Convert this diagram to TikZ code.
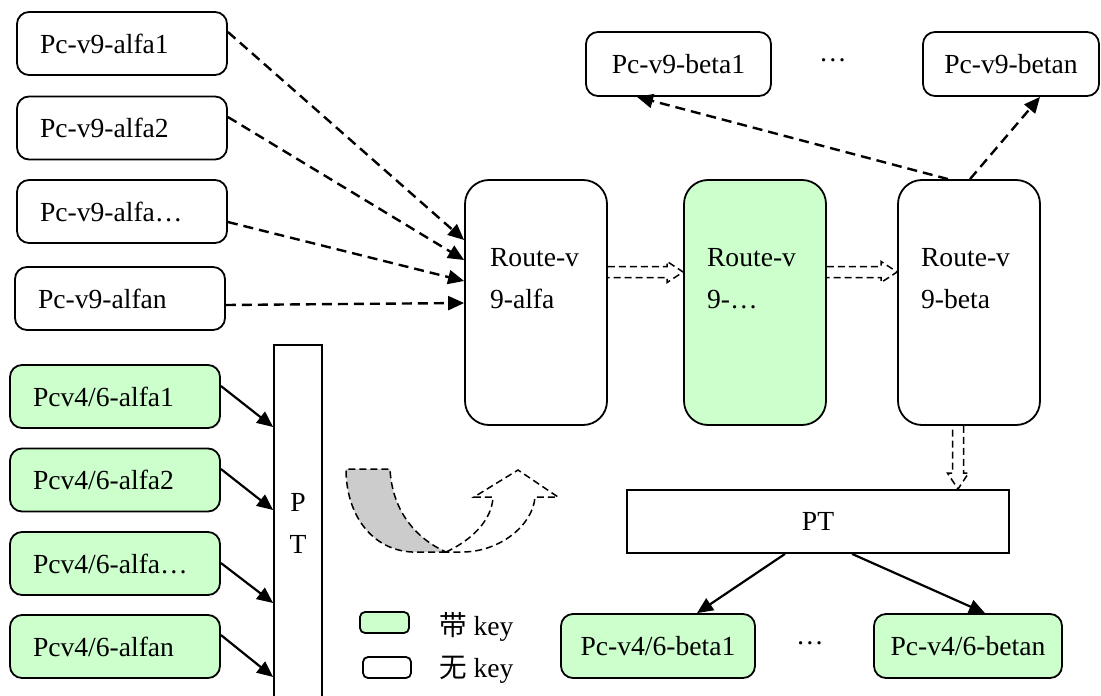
\documentclass[tikz,border=0pt]{standalone}
\usepackage{fontspec}
\setmainfont{Liberation Serif}
\newfontfamily\cjk{Noto Sans CJK SC}
\usepackage{xcolor}
\usepackage{tikz}
\usetikzlibrary{arrows.meta,positioning,calc}

\definecolor{keygreen}{HTML}{CCFFCC}

% hollow dashed block arrow from #1 to #2
\newcommand{\hollowarr}[2]{%
  \path #1 coordinate (ha) #2 coordinate (hb);
  \path ($(hb)!8pt!(ha)$) coordinate (hm);
  \draw[holdash] ($(ha)!2.75pt!90:(hb)$) -- ($(hm)!2.75pt!90:(hb)$)
    -- ($(hm)!5.25pt!90:(hb)$) -- (hb) -- ($(hm)!5.25pt!-90:(hb)$)
    -- ($(hm)!2.75pt!-90:(hb)$) -- ($(ha)!2.75pt!-90:(hb)$);
}

\begin{document}
\begin{tikzpicture}[x=0.5pt, y=-0.5pt,
  every node/.style={font=\fontsize{13.8}{21}\selectfont},
  pcbox/.style={draw, line width=0.9pt, rounded corners=6pt, minimum height=31.5pt, inner sep=0pt},
  leftbox/.style={pcbox, inner xsep=11.5pt, text width=82pt, align=left},
  routebox/.style={draw, line width=0.9pt, rounded corners=12pt, minimum width=71pt, minimum height=122.5pt},
  ptbox/.style={draw, line width=0.9pt, inner sep=0pt},
  dasharr/.style={-{Triangle[length=8pt,width=7pt]}, line width=1.2pt, dash pattern=on 5pt off 3pt},
  solidarr/.style={-{Triangle[length=8pt,width=7pt]}, line width=1.1pt},
  holdash/.style={line width=0.75pt, dash pattern=on 3.5pt off 2pt},
]
\clip (0,0) rectangle (1101,695);

% v9 clients, left
\node[leftbox] (w1) at (122,43.5) {Pc-v9-alfa1};
\node[leftbox] (w2) at (122,128) {Pc-v9-alfa2};
\node[leftbox] (w3) at (122,211.5) {Pc-v9-alfa…};
\node[leftbox] (w4) at (120,298.5) {Pc-v9-alfan};

% v4/6 clients, left
\node[leftbox, fill=keygreen] (g1) at (115,396.5) {Pcv4/6-alfa1};
\node[leftbox, fill=keygreen] (g2) at (115,480) {Pcv4/6-alfa2};
\node[leftbox, fill=keygreen] (g3) at (115,563.5) {Pcv4/6-alfa…};
\node[leftbox, fill=keygreen] (g4) at (115,646.5) {Pcv4/6-alfan};

% PT column
\node[ptbox, minimum width=24pt, minimum height=178pt, align=center] (ptv) at (298,523) {P\\T};

% routes
\node[routebox] (r1) at (536,302.5) {};
\node[routebox, fill=keygreen] (r2) at (755,302.5) {};
\node[routebox] (r3) at (969,302.5) {};
\node[anchor=west, align=left] (r1t) at (483,279) {Route-v\\9-alfa};
\node[anchor=west, align=left] (r2t) at (700,279) {Route-v\\9-…};
\node[anchor=west, align=left] (r3t) at (914,279) {Route-v\\9-beta};

% v9 clients, top right
\node[pcbox, minimum width=92.5pt, minimum height=32pt] (b1) at (678.5,64) {Pc-v9-beta1};
\node (bdots) at (833,60) {…};
\node[pcbox, minimum width=88pt, minimum height=32pt] (bn) at (1011,64) {Pc-v9-betan};

% PT and v4/6 clients, bottom right
\node[ptbox, minimum width=191pt, minimum height=31.5pt] (pth) at (818,521.5) {PT};
\node[pcbox, fill=keygreen, minimum width=97pt, minimum height=32pt] (c1) at (658,646) {Pc-v4/6-beta1};
\node (cdots) at (810,643) {…};
\node[pcbox, fill=keygreen, minimum width=94pt, minimum height=32pt] (cn) at (968,646) {Pc-v4/6-betan};

% legend
\node[pcbox, fill=keygreen, rounded corners=2.5pt, minimum width=24.5pt, minimum height=10.5pt] (lg1) at (384.5,622.5) {};
\node[pcbox, rounded corners=2.5pt, minimum width=24pt, minimum height=10.5pt] (lg2) at (387,667.5) {};
\node[anchor=west] (lt1) at (432,627) {{\cjk 带} key};
\node[anchor=west] (lt2) at (432,670) {{\cjk 无} key};

% dashed arrows into route alfa
\draw[dasharr] (w1.east |- 0,32) -- (r1.west |- 0,240);
\draw[dasharr] (w2.east |- 0,117) -- (r1.west |- 0,260);
\draw[dasharr] (w3.east |- 0,222) -- (r1.west |- 0,281);
\draw[dasharr] (w4.east |- 0,305) -- (r1.west |- 0,303);

% solid arrows into PT
\draw[solidarr] (g1.east |- 0,386) -- (ptv.west |- 0,427);
\draw[solidarr] (g2.east |- 0,469) -- (ptv.west |- 0,510);
\draw[solidarr] (g3.east |- 0,563) -- (ptv.west |- 0,603);
\draw[solidarr] (g4.east |- 0,635) -- (ptv.west |- 0,677);

% route beta to v9 clients
\draw[dasharr] (r3.north -| 948,0) -- (b1.south -| 637,0);
\draw[dasharr] (r3.north -| 970,0) -- (bn.south -| 1040,0);

% PT to v4/6 clients
\draw[solidarr] (pth.south -| 785,0) -- (c1.north -| 697,0);
\draw[solidarr] (pth.south -| 852,0) -- (cn.north -| 985,0);

% hollow arrows
\hollowarr{(r1.east |- 0,272)}{(r2.west |- 0,272)}
\hollowarr{(r2.east |- 0,272)}{(r3.west |- 0,272)}
\hollowarr{(r3.south -| 958,0)}{(pth.north -| 958,0)}

% turning arrow
\filldraw[fill=gray!40, holdash] (446,552) -- (412,552) .. controls (372,550) and (346,515) .. (346,469)
  -- (390,469) .. controls (392,510) and (415,538) .. (446,552);
\draw[holdash] (446,552) .. controls (472,540) and (492,520) .. (493,497) -- (474,497) -- (518,470)
  -- (558,497) -- (535,497) .. controls (533,525) and (500,552) .. (462,552) -- (446,552);
\end{tikzpicture}
\end{document}
